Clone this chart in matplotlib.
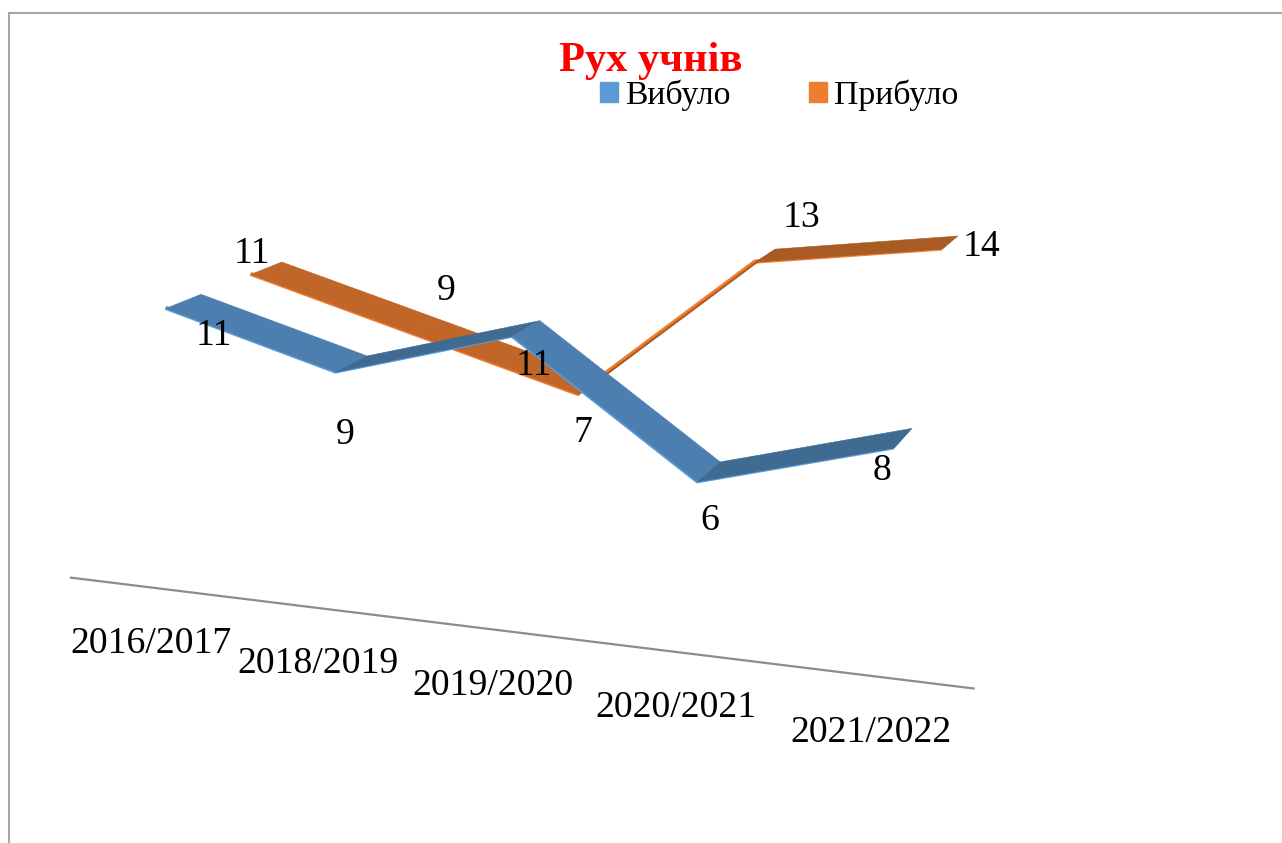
import matplotlib
matplotlib.use('Agg')
import matplotlib.pyplot as plt
from matplotlib.lines import Line2D
from matplotlib.patches import Patch
from mpl_toolkits.mplot3d.art3d import Poly3DCollection

plt.rcParams['font.family'] = ['Liberation Serif', 'DejaVu Serif']

years = ['2016/2017', '2018/2019', '2019/2020', '2020/2021', '2021/2022']
vybulo = [11, 9, 11, 6, 8]
prybulo = [11, 9, 7, 13, 14]

W, H = 1282, 843
S = 800

# camera found by fitting the ribbon corners
elev, azim, focal = 13.797, -69.751, 0.5814
aspect = (1, 0.1936, 0.4328)
zoom = 1.2584
cx, cy = 533.96, 402.29
ribbon_w = 0.8295
depth_prybulo = 2.0898

# text centres in pixels
year_pos = [(151, 644), (318, 664), (493, 686), (676, 708), (871, 733)]
vybulo_pos = [(214, 336), (345, 435), (534, 366), (710, 521), (882, 471)]
prybulo_pos = [(252, 254), (446, 291), (583, 433), (801, 218), (982, 247)]


def px(x, y):
    return x / W, 1 - y / H


fig = plt.figure(figsize=(W / 100, H / 100), dpi=100)
ax = fig.add_axes([(cx - S / 2) / W, 1 - (cy + S / 2) / H, S / W, S / H],
                  projection='3d', computed_zorder=False)
ax.set_xlim(-0.5, 4.5)
ax.set_ylim(0, 2)
ax.set_zlim(0, 16)
ax.view_init(elev, azim)
ax.set_proj_type('persp', focal_length=focal)
ax.set_box_aspect(aspect, zoom=zoom)
ax.set_axis_off()
ax.patch.set_visible(False)


def ribbon(values, depth, edge, down, up, z):
    xs = range(len(values))
    ax.plot(xs, [depth] * len(values), values, color=edge, lw=3,
            zorder=z, clip_on=False, solid_capstyle='butt')
    for i in range(len(values) - 1):
        a, b = values[i], values[i + 1]
        verts = [[(i, depth, a), (i, depth + ribbon_w, a),
                  (i + 1, depth + ribbon_w, b), (i + 1, depth, b)]]
        col = down if b < a else up
        poly = Poly3DCollection(verts, facecolors=col, edgecolors=col,
                                linewidths=0.4, zorder=z + 1 + i)
        poly.set_clip_on(False)
        ax.add_collection3d(poly)


ribbon(prybulo, depth_prybulo, '#ED7D31', '#C06628', '#A85B22', 2)
ribbon(vybulo, 0, '#5B9BD5', '#4C7FB0', '#3F6A92', 10)

# category axis line
ax.plot([-0.665, 4.44], [0, 0], [-0.83, -0.83], color='#8C8C8C', lw=1.6,
        zorder=1, clip_on=False)

# chart frame, cut off by the picture on the right and at the bottom
fig.add_artist(Line2D([9 / W, 1], [1 - 13 / H] * 2, color='#A6A6A6', lw=1.5))
fig.add_artist(Line2D([9 / W] * 2, [1 - 13 / H, 0], color='#A6A6A6', lw=1.5))

x, y = px(651, 61)
fig.text(x, y, 'Рух учнів', color='#FF0000', fontsize=30.6, fontweight='bold',
         ha='center', va='center')

handles = [Patch(color='#5B9BD5'), Patch(color='#ED7D31')]
x, y = px(600, 95)
fig.legend(handles, ['Вибуло', 'Прибуло'], ncol=2, frameon=False, fontsize=24.3,
           loc='center left', bbox_to_anchor=(x, y), borderaxespad=0, borderpad=0,
           handlelength=0.53, handleheight=0.53, handletextpad=0.2, columnspacing=2.35)

for name, pos in zip(years, year_pos):
    x, y = px(*pos)
    fig.text(x, y, name, fontsize=27.2, ha='center', va='center')
for values, positions in ((vybulo, vybulo_pos), (prybulo, prybulo_pos)):
    for v, pos in zip(values, positions):
        x, y = px(*pos)
        fig.text(x, y, str(v), fontsize=27.2, ha='center', va='center')

fig.savefig('out.png', dpi=100)
